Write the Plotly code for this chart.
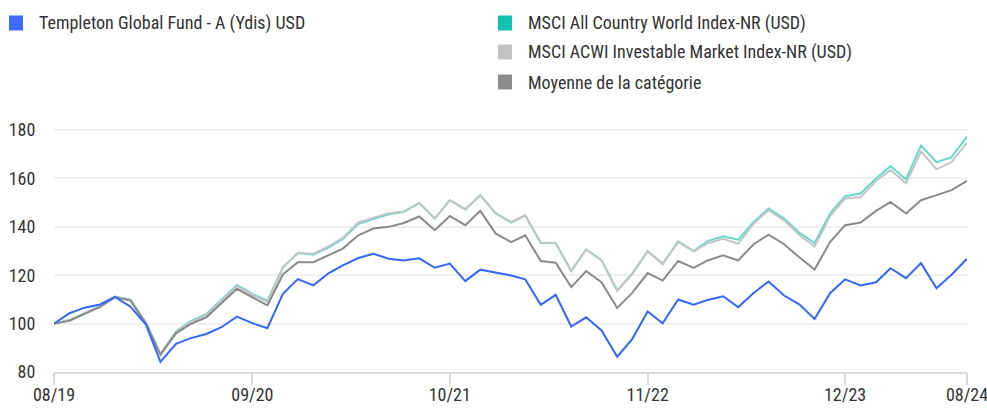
import pandas as pd
import plotly.graph_objects as go

months = pd.date_range("2019-08-01", "2024-08-01", freq="MS")

fund = [100, 104.3, 106.6, 107.9, 111, 107, 99.6, 84.2, 91.6, 94, 95.7, 98.5, 102.9,
        100.2, 98.1, 112.3, 118.4, 115.8, 120.9, 124.1, 127.1, 128.9, 126.8, 126.1,
        127, 123.1, 124.8, 117.6, 122.3, 121, 119.9, 118.3, 107.8, 111.9, 98.8, 102.6,
        97.1, 86.3, 93.6, 105, 100.1, 110, 107.8, 109.8, 111.3, 106.8, 112.7, 117.4,
        111.6, 107.9, 101.9, 112.6, 118.3, 115.8, 117.1, 122.9, 118.8, 125, 114.6,
        120.2, 126.8]

acwi = [100, 101.5, 104.3, 107.3, 111.2, 110, 100.5, 87.5, 96.8, 101, 104, 110, 116,
        112.3, 109.5, 123.3, 129.2, 128.5, 131.5, 135, 141.2, 143.2, 145.2, 146.2,
        149.8, 143.4, 151, 147.2, 153.1, 145.5, 141.8, 144.8, 133.3, 133.3, 121.7, 130.7,
        126.1, 113.7, 120.6, 130, 124.7, 134, 130, 134.1, 136.1, 134.7, 142, 147.6,
        143.4, 137.5, 133.3, 145.5, 152.7, 153.8, 160, 165.1, 159.6, 173.6, 166.7,
        168.8, 177.3]

imi = [100, 101.4, 104.2, 107.2, 111.1, 109.8, 100.3, 87.3, 96.5, 100.5, 103.5, 109.5, 115.5,
       111.9, 109, 123.2, 129.3, 128.8, 132, 135.5, 141.8, 143.8, 145.6, 146.4,
       150, 143.5, 151, 147.3, 153, 145.7, 142, 144.8, 133.5, 133.3, 121.8, 130.6,
       126, 113.5, 120.5, 129.8, 124.6, 133.8, 129.9, 133.2, 135.1, 133, 141.3, 146.9,
       142.7, 136.5, 131.9, 144.4, 151.7, 152.2, 159, 163.5, 158, 171.1, 163.8,
       166.8, 174.8]

category = [100, 101.2, 104, 106.8, 110.9, 109.5, 99.9, 87.1, 96, 99.9, 102.6, 108.2, 114.4,
            110.9, 107.5, 120.3, 125.4, 125.4, 128.2, 131, 136.5, 139.3, 140, 141.6,
            144.3, 138.6, 144.5, 140.7, 146.6, 137.2, 133.7, 136.5, 125.9, 125.2, 115.1, 121.7,
            117, 106.5, 112.7, 120.9, 117.8, 125.9, 123, 126.1, 128.2, 126.1, 132.8, 136.8,
            132.8, 127.3, 122.4, 133.7, 140.7, 141.8, 146.6, 150.3, 145.5, 151, 153.1,
            155.2, 159]

names = ["Templeton Global Fund - A (Ydis) USD",
         "MSCI All Country World Index-NR (USD)",
         "MSCI ACWI Investable Market Index-NR (USD)",
         "Moyenne de la catégorie"]
tick_dates = ["2019-08-01", "2020-09-01", "2021-10-01", "2022-11-01", "2023-12-01", "2024-08-01"]
tick_labels = ["08/19", "09/20", "10/21", "11/22", "12/23", "08/24"]
y_ticks = [80, 100, 120, 140, 160, 180]

line_colors = ["#3366ff", "#66d9cc", "#c4c4c4", "#8a8a8a"]
swatch_colors = ["#3d6bff", "#12c1b0", "#c2c2c2", "#8c8c8c"]

FONT = "Roboto Condensed, DejaVu Sans Condensed, sans-serif"

fig = go.Figure()
series = [fund, acwi, imi, category]
order = [1, 2, 3, 0]
for k in order:
    fig.add_trace(go.Scatter(x=months, y=series[k], mode="lines", name=names[k],
                             line=dict(color=line_colors[k], width=2),
                             xaxis="x2" if k == 0 else "x",
                             showlegend=False, hoverinfo="x+y+name"))

W, H = 987, 408
ml, mr, mt, mb = 54, 20, 118, 36
pw, ph = W - ml - mr, H - mt - mb

def px(x):
    return (x - ml) / pw

def py(y):
    return (H - mb - y) / ph

legend_items = [(9, 23, 0), (498, 23, 1), (498, 52, 2), (498, 82, 3)]
for (lx, ly, k) in legend_items:
    fig.add_shape(type="rect", xref="paper", yref="paper",
                  x0=px(lx), x1=px(lx + 14), y0=py(ly - 7.5), y1=py(ly + 7.5),
                  fillcolor=swatch_colors[k], line=dict(width=0))
    fig.add_annotation(xref="paper", yref="paper", x=px(lx + 28), y=py(ly),
                       text=names[k], showarrow=False, xanchor="left", yanchor="middle",
                       font=dict(family=FONT, size=18, color="#333333"))

x_range = [months[0], months[-1]]
fig.update_layout(
    width=W, height=H,
    margin=dict(l=ml, r=mr, t=mt, b=mb, autoexpand=False),
    plot_bgcolor="white", paper_bgcolor="white",
    font=dict(family=FONT, size=18, color="#333333"),
    showlegend=False,
    xaxis=dict(range=x_range, tickvals=tick_dates, ticktext=tick_labels,
               showgrid=False, showline=True, linecolor="#d9d9d9", linewidth=2,
               ticks="outside", ticklen=5, tickwidth=2, tickcolor="rgba(0,0,0,0)",
               ticklabeloverflow="allow", automargin=False,
               tickfont=dict(family=FONT, size=18, color="#333333"), zeroline=False),
    xaxis2=dict(overlaying="x", anchor="y", side="bottom", range=x_range, type="date",
                tickvals=tick_dates, showticklabels=False, showgrid=False, showline=False,
                ticks="outside", ticklen=12, tickwidth=2, tickcolor="#d9d9d9",
                automargin=False, zeroline=False),
    yaxis=dict(range=[80, 185], tickvals=y_ticks, showgrid=True, gridcolor="#f0f0f0",
               gridwidth=2, zeroline=False, showline=False, automargin=False,
               ticks="outside", ticklen=14, tickcolor="rgba(0,0,0,0)",
               tickfont=dict(family=FONT, size=18, color="#333333")),
)

fig.write_html("out.html", config={"displayModeBar": False},
               post_script="document.body.style.margin='0px';document.body.style.overflow='hidden';")
